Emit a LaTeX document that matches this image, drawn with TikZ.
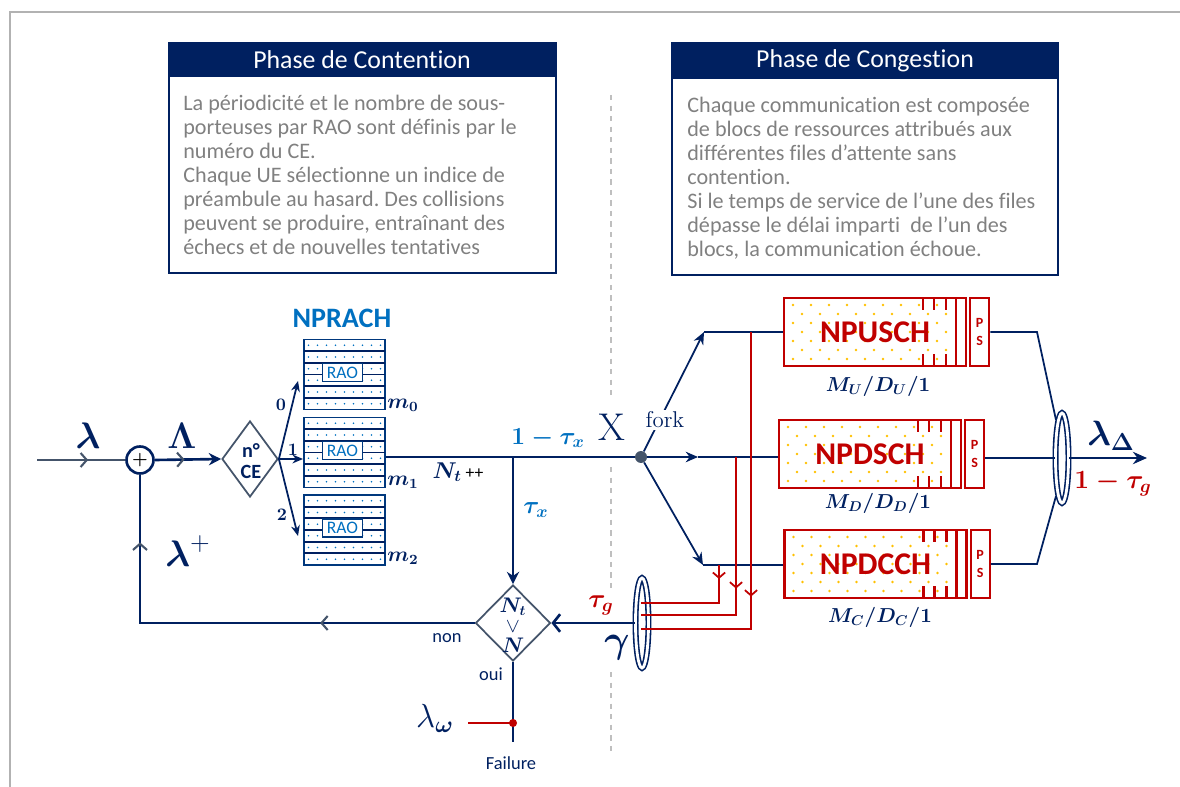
\RequirePackage{fix-cm}
\documentclass[tikz,border=0pt]{standalone}
\usepackage{amsmath,amssymb}
\usepackage{fontspec}
\setsansfont{Carlito}[Ligatures=NoCommon]
\usetikzlibrary{shapes.geometric, arrows.meta, decorations.markings, calc}
\frenchspacing

\definecolor{navy}{RGB}{0,32,96}
\definecolor{azure}{RGB}{0,112,192}
\definecolor{crimson}{RGB}{192,0,0}
\definecolor{slate}{RGB}{68,84,106}
\definecolor{txtgray}{RGB}{128,128,128}
\definecolor{amber}{RGB}{255,192,0}

\tikzset{
	flow/.style={draw=navy, line width=1.5pt},
	branch/.style={draw=navy, line width=1pt},
	redline/.style={draw=crimson, line width=1.2pt},
	chev/.style={postaction={decorate, decoration={markings,
		mark=at position #1 with {\arrow[slate, line width=1.2pt]{Straight Barb[length=3.5pt, width=8pt]}}}}},
	redchev/.style={postaction={decorate, decoration={markings,
		mark=at position #1 with {\arrow[crimson, line width=1pt]{Straight Barb[length=3pt, width=7pt]}}}}},
	sumnode/.style={circle, draw=navy, line width=1.5pt, minimum size=0.54cm, inner sep=0pt, fill=white},
	choice/.style={diamond, draw=slate, line width=1pt, inner sep=0pt},
	raoblk/.style={draw=navy!70!azure, line width=1pt, minimum width=1.62cm, minimum height=1.4cm, inner sep=0pt},
	raotag/.style={draw=navy!70!azure, fill=white, line width=0.8pt, minimum width=0.8cm, minimum height=0.36cm,
		inner sep=0pt, font=\sffamily\fontsize{10}{10}\selectfont, text=azure},
	qbox/.style={draw=crimson, line width=1.2pt, minimum width=3.64cm, minimum height=1.36cm, inner sep=0pt},
	psbox/.style={draw=crimson, line width=1.2pt, minimum width=0.38cm, minimum height=1.36cm, inner sep=0pt,
		align=center, font=\sffamily\bfseries\fontsize{8}{10}\selectfont, text=crimson},
	qname/.style={font=\sffamily\bfseries\fontsize{18}{20}\selectfont, text=crimson},
	ring/.style={ellipse, draw=navy, line width=0.9pt, double=white, double distance=1.6pt,
		minimum width=0.26cm, minimum height=1.8cm, inner sep=0pt},
	forkdot/.style={circle, fill=slate, minimum size=0.24cm, inner sep=0pt},
	headtext/.style={font=\sffamily\fontsize{14.7}{16}\selectfont, text=white},
	bodytext/.style={font=\sffamily\fontsize{12.6}{13.6}\selectfont, text=txtgray, align=left, inner sep=0pt, anchor=north west},
	lbl/.style={text=navy, inner sep=1pt},
	small/.style={lbl, font=\sffamily\fontsize{10.5}{11}\selectfont},
	law/.style={lbl, font=\fontsize{11.5}{12}\selectfont},
}

% RAO block: name, x, y
\newcommand{\raoblock}[3]{%
	\node[raoblk] (#1) at (#2,#3) {};
	\foreach \k in {1,...,5}
		\draw[navy, line width=1.1pt] (#2-40.5,#3-35+11.67*\k) -- (#2+40.5,#3-35+11.67*\k);
	\foreach \i in {0,...,8}
		\foreach \j in {0,...,5}
			\fill[azure] ({#2-36+9*\i},{#3-29.2+11.67*\j}) circle (0.5pt);
	\node[raotag] (#1-tag) at (#2-2,#3-2) {RAO};
}

% queue: name, x, y, label
\newcommand{\qnode}[4]{%
	\node[qbox] (#1) at (#2,#3) {};
	\foreach \i in {0,...,8}
		\foreach \j in {0,...,6}
			\fill[amber] ({#2-82+18*\i+9*mod(\j,2)},{#3-27+9*\j}) circle (0.8pt);
	\foreach \t in {48,59,71}{
		\draw[crimson, line width=1.2pt] (#2+\t,#3-34) -- +(0,12);
		\draw[crimson, line width=1.2pt] (#2+\t,#3+34) -- +(0,-12);
	}
	\draw[crimson, line width=1.2pt] (#2+81,#3-34) -- (#2+81,#3+34);
	\node[qname] (#1-txt) at (#2,#3) {#4};
	\node[psbox, anchor=west] (#1-ps) at ([xshift=1.2pt]#1.east) {P\\S};
}

\begin{document}
\begin{tikzpicture}[x=0.02cm, y=-0.02cm]
	\useasboundingbox (0,0) rectangle (1180,787);
	\draw[gray!60, line width=0.6pt] (10,787) -- (10,12) -- (1180,12);

	% description boxes
	\fill[navy] (169,43) rectangle (556,77);
	\draw[navy, line width=0.8pt] (169,43) rectangle (556,273);
	\node[headtext] (conthead) at (362,60) {Phase de Contention};
	\node[bodytext] (contbody) at (183,95) {La périodicité et le nombre de sous-\\porteuses par RAO sont définis par le\\numéro du CE.\\Chaque UE sélectionne un indice de\\préambule au hasard. Des collisions\\peuvent se produire, entraînant des\\échecs et de nouvelles tentatives};

	\fill[navy] (672,43) rectangle (1058,79);
	\draw[navy, line width=0.8pt] (672,43) rectangle (1058,275);
	\node[headtext] (conghead) at (865,61) {Phase de Congestion};
	\node[bodytext] (congbody) at (687,97) {Chaque communication est composée\\de blocs de ressources attribués aux\\différentes files d'attente sans\\contention.\\Si le temps de service de l’une des files\\dépasse le délai imparti\ \ de l’un des\\blocs, la communication échoue.};

	\draw[gray!50, dashed, line width=0.7pt] (611,95) -- (611,395);
	\draw[gray!50, dashed, line width=0.7pt] (611,467) -- (611,590);
	\draw[gray!50, dashed, line width=0.7pt] (611,672) -- (611,752);

	% contention part
	\coordinate (in) at (37,460);
	\node[sumnode] (sum) at (140,460) {$\boldsymbol{+}$};
	\node[choice, minimum width=1.12cm, minimum height=1.52cm] (ce) at (250,459) {};
	\node[lbl, align=center, font=\sffamily\bfseries\fontsize{11.5}{12}\selectfont] (cetxt) at (251,461) {n°\\CE};
	\draw[flow, line width=1.2pt, draw=slate, chev=0.58] (in) -- (sum.west);
	\draw[flow, chev=0.45, -{Stealth[length=7pt, width=7pt]}] (sum.east) -- (ce.west);
	\node[lbl, font=\fontsize{21}{22}\selectfont] (lamin) at (88,436) {$\boldsymbol{\lambda}$};
	\node[lbl, font=\fontsize{21}{22}\selectfont] (lamsum) at (182,436) {$\boldsymbol{\Lambda}$};

	\node[lbl, font=\sffamily\bfseries\fontsize{16}{18}\selectfont, text=azure] (nprach) at (342,318) {NPRACH};
	\raoblock{blk0}{344.5}{374.5}
	\raoblock{blk1}{344.5}{452.5}
	\raoblock{blk2}{344.5}{530}
	\coordinate (r0) at (298,381);
	\coordinate (r1) at (303,459);
	\coordinate (r2) at (298,536);
	\draw[branch, -{Stealth[length=6pt, width=5pt]}] (ce.east) -- (r0);
	\draw[branch, -{Stealth[length=6pt, width=5pt]}] (ce.east) -- (r1);
	\draw[branch, -{Stealth[length=6pt, width=5pt]}] (ce.east) -- (r2);
	\node[lbl, font=\bfseries\fontsize{10}{11}\selectfont] (c0) at (281,405) {0};
	\node[lbl, font=\bfseries\fontsize{10}{11}\selectfont] (c1) at (293,450) {1};
	\node[lbl, font=\bfseries\fontsize{10}{11}\selectfont] (c2) at (282,515) {2};
	\node[lbl, font=\fontsize{12}{13}\selectfont] (m0) at (403,405) {$\boldsymbol{m_0}$};
	\node[lbl, font=\fontsize{12}{13}\selectfont] (m1) at (403,482) {$\boldsymbol{m_1}$};
	\node[lbl, font=\fontsize{12}{13}\selectfont] (m2) at (403,558) {$\boldsymbol{m_2}$};

	\node[forkdot] (fork) at (641,457) {};
	\coordinate (split) at (513,457);
	\draw[flow] (blk1.east |- fork) -- (fork);
	\node[lbl, font=\fontsize{13}{14}\selectfont] (ntpp) at (458,472) {$\boldsymbol{N_t}$\,{\sffamily\fontsize{10}{10}\selectfont\color{black}++}};
	\node[lbl, text=azure, font=\fontsize{14}{15}\selectfont] (pass) at (548,438) {$\boldsymbol{1-\tau_x}$};
	\node[lbl, text=azure, font=\fontsize{14}{15}\selectfont] (fail) at (536,510) {$\boldsymbol{\tau_x}$};

	\node[choice, minimum width=1.5cm, minimum height=1.52cm] (test) at (513,623) {};
	\node[lbl, font=\fontsize{12}{13}\selectfont] (testa) at (513,607) {$\boldsymbol{N_t}$};
	\node[lbl, font=\fontsize{12}{13}\selectfont, rotate=-90] (testb) at (513,627) {$>$};
	\node[lbl, font=\fontsize{12}{13}\selectfont] (testc) at (513,645) {$\boldsymbol{N}$};
	\draw[flow, -{Stealth[length=7pt, width=7pt]}] (split) -- (test.north);
	\draw[flow, chev=0.32, chev=0.86] (test.west) -| (sum.south);
	\node[lbl, font=\fontsize{21}{22}\selectfont] (lamre) at (188,551) {$\boldsymbol{\lambda}^{+}$};
	\node[small] (non) at (447,638) {non};
	\node[small] (oui) at (491,674) {oui};

	\coordinate (drop) at (513,723);
	\coordinate (dropend) at (513,742);
	\coordinate (lossin) at (468,723);
	\draw[branch, line width=1.2pt] (test.south) -- (dropend);
	\draw[redline, line width=1.5pt] (lossin) -- (drop);
	\fill[crimson] (drop) circle (2.3pt);
	\node[lbl, font=\fontsize{19}{20}\selectfont] (lamw) at (435,718) {$\lambda_{\boldsymbol{\omega}}$};
	\node[small] (failure) at (511,763) {Failure};

	% congestion part
	\node[lbl, font=\fontsize{22}{22}\selectfont\rmfamily] (xlbl) at (612,427) {X};

	\qnode{usch}{875}{332}{NPUSCH}
	\qnode{dsch}{870}{454}{NPDSCH}
	\qnode{dcch}{875.5}{564}{NPDCCH}
	\node[law] (usch-law) at (878,386) {$\boldsymbol{M_U/D_U/1}$};
	\node[law] (dsch-law) at (878,503) {$\boldsymbol{M_D/D_D/1}$};
	\node[law] (dcch-law) at (880,617) {$\boldsymbol{M_C/D_C/1}$};

	\coordinate (up) at (704,332);
	\coordinate (mid) at (698,457);
	\coordinate (low) at (703,565);
	\draw[branch, -{Stealth[length=7pt, width=6pt]}] (fork) -- (up);
	\draw[branch, -{Stealth[length=7pt, width=6pt]}] (fork) -- (mid);
	\draw[branch, -{Stealth[length=7pt, width=6pt]}] (fork) -- (low);
	\draw[branch] (up) -- (usch.west);
	\draw[branch] (mid) -- (dsch.west |- mid);
	\draw[branch] (low) -- (dcch.west |- low);
	\node[lbl, fill=white, font=\fontsize{13}{14}\selectfont\rmfamily] (forklbl) at (665,420) {fork};

	% retries back to the test
	\node[ring] (gam) at (642,623) {};
	\draw[flow, -{Straight Barb[length=4pt, width=10pt]}] (gam.west) -- (test.east);
	\coordinate (tapc) at (719,565);
	\coordinate (tapd) at (736,457);
	\coordinate (tapu) at (751,332);
	\coordinate (backc) at (641,603);
	\coordinate (backd) at (641,615);
	\coordinate (backu) at (641,629);
	\draw[redline, redchev=0.12] (tapc) |- (backc);
	\draw[redline, redchev=0.52] (tapd) |- (backd);
	\draw[redline, redchev=0.65] (tapu) |- (backu);
	\node[lbl, text=crimson, font=\fontsize{15}{16}\selectfont] (taug) at (601,605) {$\boldsymbol{\tau_g}$};
	\node[lbl, font=\fontsize{22}{22}\selectfont] (gamma) at (617,648) {$\boldsymbol{\gamma}$};

	% output
	\node[ring] (ring2) at (1062,458) {};
	\coordinate (bendu) at (1037,332);
	\coordinate (bendc) at (1037,564);
	\coordinate (out) at (1147,458);
	\draw[branch] (usch-ps.east) -- (bendu) -- (1056,420);
	\draw[branch] (dsch-ps.east |- ring2) -- (ring2.west);
	\draw[branch] (dcch-ps.east) -- (bendc) -- (1056,496);
	\draw[flow, -{Stealth[length=8pt, width=7pt]}] (ring2.east) -- (out);
	\node[lbl, font=\fontsize{20}{21}\selectfont] (lamd) at (1111,436) {$\boldsymbol{\lambda_\Delta}$};
	\node[lbl, text=crimson, font=\fontsize{15}{16}\selectfont] (okrate) at (1113,484) {$\boldsymbol{1-\tau_g}$};
\end{tikzpicture}
\end{document}
